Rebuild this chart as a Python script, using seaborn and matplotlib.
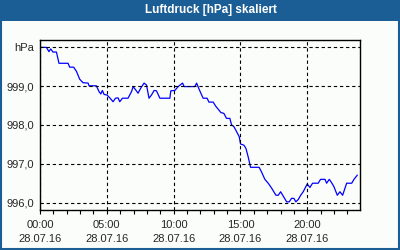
import matplotlib
matplotlib.use("Agg")
import matplotlib.pyplot as plt
import seaborn as sns
import pandas as pd
from matplotlib.patches import Rectangle

# hours since 28.07.16 00:00
hours = [0.00, 0.48, 0.67, 0.80, 0.97, 1.23, 1.42, 2.10, 2.22, 2.52, 2.73, 2.97, 3.22, 3.60,
         3.67, 4.22, 4.42, 4.55, 4.67, 4.79, 5.02, 5.22, 5.47, 5.65, 5.84, 5.97, 6.17, 6.59,
         6.85, 6.97, 7.17, 7.34, 7.54, 7.79, 7.97, 8.16, 8.34, 8.54, 8.72, 8.97, 9.72, 9.79,
         10.09, 10.34, 10.67, 10.79, 11.59, 11.72, 11.91, 12.21, 12.51, 12.64, 12.96, 13.14,
         13.33, 13.54, 13.76, 13.96, 14.21, 14.34, 14.51, 14.71, 14.91, 15.01, 15.26, 15.41,
         15.58, 15.76, 16.40, 16.58, 16.83, 17.08, 17.34, 17.66, 17.83, 18.01, 18.20, 18.46,
         18.65, 18.83, 19.00, 19.15, 19.33, 19.51, 19.70, 20.00, 20.20, 20.40, 20.82, 21.00,
         21.33, 21.45, 21.65, 21.83, 22.00, 22.25, 22.45, 22.65, 22.95, 23.33, 23.50, 23.75]
pressure = [1000.00, 1000.00, 999.89, 999.96, 999.88, 999.88, 999.59, 999.59, 999.49, 999.49,
            999.38, 999.18, 999.09, 999.08, 999.01, 999.01, 998.86, 998.80, 998.89, 998.79,
            998.77, 998.70, 998.60, 998.69, 998.70, 998.60, 998.69, 998.69, 998.86, 998.99,
            998.90, 998.82, 998.95, 999.08, 999.03, 998.69, 998.77, 998.89, 998.88, 998.69,
            998.69, 998.88, 998.89, 998.99, 999.08, 998.99, 998.99, 999.08, 998.92, 998.69,
            998.69, 998.59, 998.59, 998.49, 998.41, 998.32, 998.30, 998.17, 998.17, 998.00,
            997.96, 997.83, 997.70, 997.51, 997.48, 997.40, 997.18, 996.91, 996.91, 996.79,
            996.60, 996.50, 996.37, 996.19, 996.19, 996.28, 996.17, 996.02, 996.02, 996.11,
            996.11, 996.02, 996.08, 996.19, 996.28, 996.48, 996.39, 996.50, 996.50, 996.60,
            996.60, 996.50, 996.60, 996.51, 996.41, 996.19, 996.28, 996.19, 996.50, 996.50,
            996.60, 996.71]

x_ticks = [0, 5, 10, 15, 20]
x_labels = ["00:00\n28.07.16", "05:00\n28.07.16", "10:00\n28.07.16",
            "15:00\n28.07.16", "20:00\n28.07.16"]
y_ticks = [996, 997, 998, 999, 1000]
y_labels = ["996,0", "997,0", "998,0", "999,0", "hPa"]
title = "Luftdruck [hPa] skaliert"

df = pd.DataFrame({"h": hours, "p": pressure})

sns.set_style("white")
plt.rcParams["font.family"] = ["Liberation Sans", "DejaVu Sans"]

BG = "#fbfdfb"
BLUE = "#1b5e95"

fig = plt.figure(figsize=(4, 2.5), dpi=100, facecolor=BG)
ax = fig.add_axes([0.1, 0.16, 0.8, 0.68])
ax.set_facecolor(BG)

sns.lineplot(data=df, x="h", y="p", ax=ax, color="#0000ff", linewidth=0.9)

ax.set_xlim(0, 23.95)
ax.set_ylim(995.81, 1000.19)
ax.set_xticks(x_ticks)
ax.set_xticklabels(x_labels, fontsize=8, linespacing=1.5)
ax.set_xticks(list(range(0, 24)), minor=True)
ax.set_yticks(y_ticks)
ax.set_yticklabels(y_labels, fontsize=8)
ax.set_xlabel("")
ax.set_ylabel("")

ax.tick_params(axis="x", which="both", direction="out", length=3, width=0.8,
               color="black", pad=4, bottom=True)
ax.tick_params(axis="y", which="both", length=0, pad=4)

for s in ax.spines.values():
    s.set_visible(True)
    s.set_color("black")
    s.set_linewidth(1.0)

ax.grid(True, which="major", color="black", linewidth=0.8,
        linestyle=(0, (3, 2.5)))
ax.set_axisbelow(False)
for gl in ax.get_xgridlines() + ax.get_ygridlines():
    gl.set_zorder(1)

# title bar and frame
fig.patches.append(Rectangle((0, 0.918), 1, 0.082, transform=fig.transFigure,
                             facecolor=BLUE, edgecolor="none", zorder=0))
fig.patches.append(Rectangle((0.0015, 0.004), 0.997, 0.99, transform=fig.transFigure,
                             facecolor="none", edgecolor=BLUE, linewidth=1.5, zorder=5))
fig.text(0.528, 0.959, title, color="white", fontsize=8.5, fontweight="bold",
         ha="center", va="center")

fig.savefig("out.png", dpi=100, facecolor=BG)
